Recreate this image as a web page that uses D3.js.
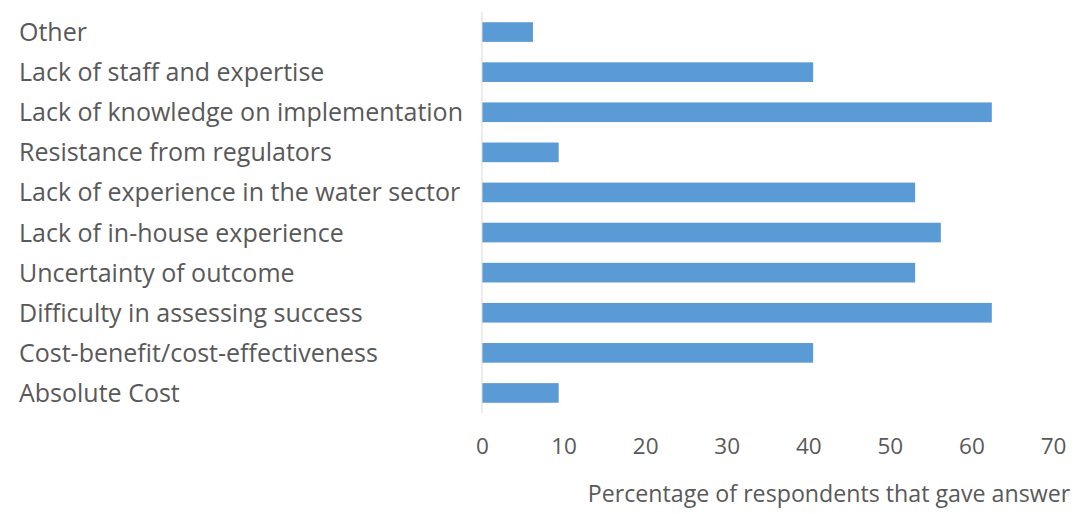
<!DOCTYPE html>
<html>
<head>
<meta charset="utf-8">
<script src="https://cdn.jsdelivr.net/npm/d3@7"></script>
<style>
  html, body { margin: 0; padding: 0; background: #fff; }
  svg { display: block; }
  text { font-family: "Open Sans", sans-serif; fill: #595959; }
</style>
</head>
<body>
<svg id="chart" width="1075" height="514"></svg>
<script>
// Barriers reported by respondents (top to bottom as drawn)
const categories = [
  "Other",
  "Lack of staff and expertise",
  "Lack of knowledge on implementation",
  "Resistance from regulators",
  "Lack of experience in the water sector",
  "Lack of in-house experience",
  "Uncertainty of outcome",
  "Difficulty in assessing success",
  "Cost-benefit/cost-effectiveness",
  "Absolute Cost"
];
const percentages = [6.25, 40.6, 62.5, 9.4, 53.1, 56.25, 53.1, 62.5, 40.6, 9.4];
const xTicks = [0, 10, 20, 30, 40, 50, 60, 70];
const xTitle = "Percentage of respondents that gave answer";

const svg = d3.select("#chart");
const plot = { left: 482, right: 1053, top: 12, bottom: 413 };

const x = d3.scaleLinear().domain([0, 70]).range([plot.left, plot.right]);
const y = d3.scaleBand().domain(categories).range([plot.top, plot.bottom]).paddingInner(0.51).paddingOuter(0.255);

// bars
svg.append("g").selectAll("rect")
  .data(categories)
  .join("rect")
  .attr("x", x(0))
  .attr("y", d => y(d))
  .attr("width", (d, i) => x(percentages[i]) - x(0))
  .attr("height", y.bandwidth())
  .attr("fill", "#5B9BD5");

// vertical category axis line
svg.append("line")
  .attr("x1", x(0)).attr("x2", x(0))
  .attr("y1", plot.top).attr("y2", plot.bottom)
  .attr("stroke", "#d9d9d9").attr("stroke-width", 1);

// category labels
svg.append("g").selectAll("text")
  .data(categories)
  .join("text")
  .attr("x", 19)
  .attr("y", d => y(d) + y.bandwidth() / 2)
  .attr("dy", "0.36em")
  .style("font-size", "25px")
  .text(d => d);

// value axis tick labels
const xAxis = d3.axisBottom(x).tickValues(xTicks).tickSize(0).tickPadding(0);
const gx = svg.append("g").attr("transform", `translate(0, 438)`).call(xAxis);
gx.select(".domain").remove();
gx.selectAll("text")
  .style("font-size", "22.5px")
  .style("font-family", "'Open Sans', sans-serif")
  .attr("fill", "#595959");

// axis title
svg.append("text")
  .attr("x", 829)
  .attr("y", 494)
  .attr("dy", "0.36em")
  .attr("text-anchor", "middle")
  .style("font-size", "23.2px")
  .text(xTitle);
</script>
</body>
</html>
